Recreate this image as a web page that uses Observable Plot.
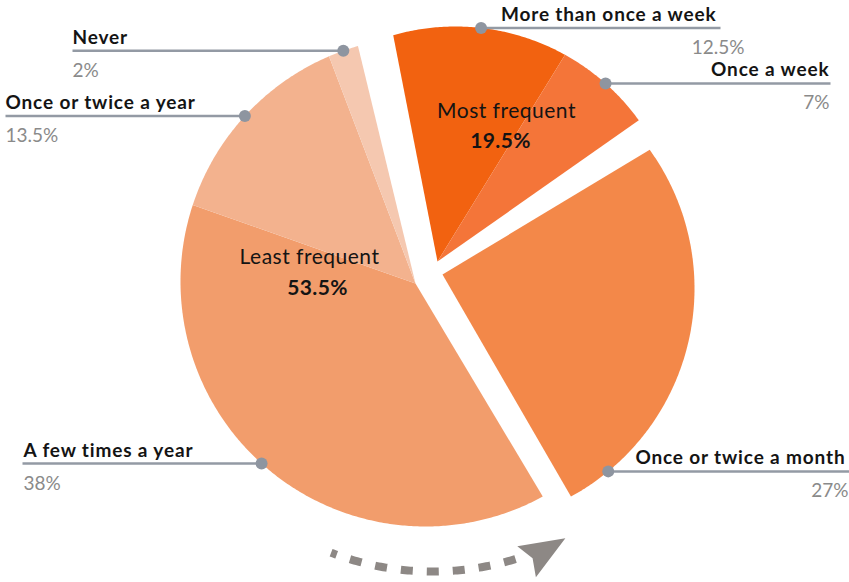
<!DOCTYPE html>
<html><head><meta charset="utf-8">
<script src="https://cdn.jsdelivr.net/npm/d3@7"></script>
<script src="https://cdn.jsdelivr.net/npm/@observablehq/plot@0.6"></script>
<style>
html,body{margin:0;padding:0;background:#fff;}
#chart{width:849px;height:582px;overflow:hidden}
#chart g[font-weight="700"][font-size="19"] text{letter-spacing:0.85px}
#chart g[font-weight="400"][font-size="21"] text{letter-spacing:0.5px}
#chart g[font-weight="700"][font-size="21"] text{letter-spacing:0.4px}
</style>
</head><body><div id="chart"></div>
<script>
// ---- data ----
const categories = ["More than once a week","Once a week","Once or twice a month","A few times a year","Once or twice a year","Never"];
const shares = [12.5, 7, 27, 38, 13.5, 2];
const valueLabels = ["12.5%","7%","27%","38%","13.5%","2%"];
const sliceGroup = ["most","most","month","least","least","least"];
const groupKeys = ["most","least"];
const groupLabels = ["Most frequent","Least frequent"];
const groupTotals = ["19.5%","53.5%"];
const sliceColors = ["#f26210","#f47539","#f38849","#f29d6c","#f3b28e","#f5c8b0"];

// ---- layout ----
const startAngle = -16; // degrees clockwise from 12 o'clock
const geom = {
  most:  {cx:455, cy:252, r:226, ax:437, ay:261},
  month: {cx:457, cy:288, r:237, ax:442, ay:274},
  least: {cx:425, cy:281, r:245, ax:415, ay:283}
};
const labelLayout = [
  {lineEnd:720, textX:716, textAnchor:"end",   valueX:744, valueAnchor:"end"},
  {lineEnd:830, textX:829, textAnchor:"end",   valueX:829, valueAnchor:"end"},
  {lineEnd:849, textX:845, textAnchor:"end",   valueX:848, valueAnchor:"end", dotAngle:140.5},
  {lineEnd:22,  textX:23,  textAnchor:"start", valueX:23,  valueAnchor:"start", dotAngle:222},
  {lineEnd:5,   textX:5,   textAnchor:"start", valueX:5,   valueAnchor:"start"},
  {lineEnd:72,  textX:72,  textAnchor:"start", valueX:72,  valueAnchor:"start"}
];
const groupLabelPos = {
  most:  {nameX:506, nameY:117, totalX:500, totalY:147},
  least: {nameX:309, nameY:263, totalX:317, totalY:294}
};
const arrow = {cx:432, cy:288, R:283, from:201, to:162, tipA:152, tipR:283, baseA:161, baseR:289, half:18, notch:7};

const rad = d => d * Math.PI / 180;
const onCircle = (cx, cy, r, a) => ({x: cx + r * Math.sin(rad(a)), y: cy - r * Math.cos(rad(a))});

// slices
let acc = startAngle;
const slices = categories.map((c, i) => {
  const a0 = acc, a1 = acc + shares[i] * 3.6; acc = a1;
  return {name:c, a0, a1, group:sliceGroup[i], color:sliceColors[i], value:valueLabels[i], lay:labelLayout[i]};
});
const polyPts = [];
slices.forEach(s => {
  const g = geom[s.group];
  polyPts.push({slice:s.name, color:s.color, x:g.ax, y:g.ay});
  const n = Math.max(2, Math.ceil((s.a1 - s.a0) / 0.5));
  for (let k = 0; k <= n; k++) {
    const p = onCircle(g.cx, g.cy, g.r, s.a0 + (s.a1 - s.a0) * k / n);
    polyPts.push({slice:s.name, color:s.color, x:p.x, y:p.y});
  }
});

// labels
const labels = slices.map(s => {
  const g = geom[s.group];
  const a = s.lay.dotAngle ?? (s.a0 + s.a1) / 2;
  const d = onCircle(g.cx, g.cy, g.r, a);
  return {...s, dx:d.x, dy:d.y, lx:s.lay.lineEnd, tx:s.lay.textX, ty:d.y - 7, vx:s.lay.valueX, vy:d.y + 26,
          ta:s.lay.textAnchor, va:s.lay.valueAnchor};
});
const groupText = groupKeys.map((k, i) => ({key:k, name:groupLabels[i], total:groupTotals[i], ...groupLabelPos[k]}));

// arrow
const arrowPts = d3.range(arrow.from, arrow.to - 0.01, -0.5).map(a => onCircle(arrow.cx, arrow.cy, arrow.R, a));
const tip = onCircle(arrow.cx, arrow.cy, arrow.tipR, arrow.tipA);
const base = onCircle(arrow.cx, arrow.cy, arrow.baseR, arrow.baseA);
const L = Math.hypot(tip.x - base.x, tip.y - base.y);
const u = {x:(tip.x - base.x)/L, y:(tip.y - base.y)/L};
const nv = {x:-u.y, y:u.x};
const headPts = [
  tip,
  {x:base.x + arrow.half*nv.x, y:base.y + arrow.half*nv.y},
  {x:base.x + arrow.notch*u.x, y:base.y + arrow.notch*u.y},
  {x:base.x - arrow.half*nv.x, y:base.y - arrow.half*nv.y},
  tip
];

const font = "Lato, 'Noto Sans', sans-serif";
const textMarks = [];
["start","end"].forEach(anchor => {
  textMarks.push(Plot.text(labels.filter(d => d.ta === anchor), {x:"tx", y:"ty", text:"name", textAnchor:anchor, lineAnchor:"bottom", fontSize:19, fontWeight:700, fill:"#141414"}));
  textMarks.push(Plot.text(labels.filter(d => d.va === anchor), {x:"vx", y:"vy", text:"value", textAnchor:anchor, lineAnchor:"bottom", fontSize:19, fontWeight:400, fill:"#8a8a8a"}));
});

const chart = Plot.plot({
  width:849, height:582, margin:0,
  x:{domain:[0,849], range:[0,849], axis:null},
  y:{domain:[0,582], range:[0,582], axis:null},
  color:{type:"identity"},
  style:{fontFamily:font, background:"#fff", overflow:"visible"},
  marks:[
    Plot.line(polyPts, {x:"x", y:"y", z:"slice", fill:"color", stroke:"none", curve:"linear"}),
    Plot.line(arrowPts, {x:"x", y:"y", stroke:"#8d8885", strokeWidth:8, strokeDasharray:"12,14", strokeDashoffset:6, strokeLinecap:"butt"}),
    Plot.line(headPts, {x:"x", y:"y", fill:"#8d8885", stroke:"none"}),
    Plot.link(labels, {x1:"dx", y1:"dy", x2:"lx", y2:"dy", stroke:"#939aa4", strokeWidth:2.5}),
    Plot.dot(labels, {x:"dx", y:"dy", r:6, fill:"#8e95a0", stroke:"none"}),
    ...textMarks,
    Plot.text(groupText, {x:"nameX", y:"nameY", text:"name", lineAnchor:"bottom", fontSize:21, fontWeight:400, fill:"#141414"}),
    Plot.text(groupText, {x:"totalX", y:"totalY", text:"total", lineAnchor:"bottom", fontSize:21, fontWeight:700, fill:"#141414"})
  ]
});
document.getElementById("chart").appendChild(chart);
</script>
</body></html>
